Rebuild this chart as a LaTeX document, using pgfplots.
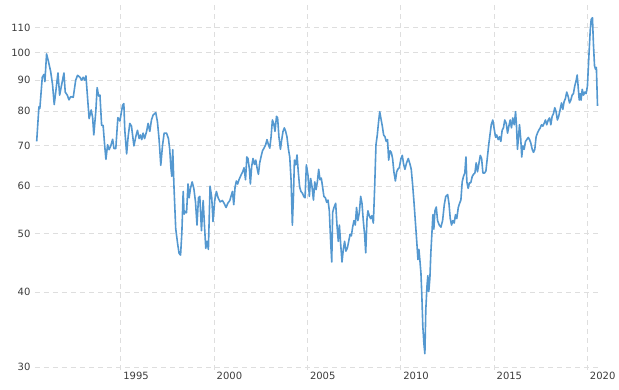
\documentclass[border=0pt]{standalone}
\usepackage{fontspec}
\setmainfont{DejaVu Sans}
\usepackage{pgfplots}
\pgfplotsset{compat=1.18}
\definecolor{line}{RGB}{84,152,208}
\definecolor{grd}{RGB}{222,222,222}
\definecolor{txt}{RGB}{60,60,60}
\begin{document}
\begin{tikzpicture}[x=1pt,y=1pt]
\useasboundingbox (0,0) rectangle (619,389);
\begin{axis}[
  at={(35pt,19pt)}, anchor=south west,
  scale only axis, width=564pt, height=365pt,
  xmin=1990.40, xmax=2020.62,
  ymode=log, ymin=29.7, ymax=120,
  axis line style={draw=none},
  major tick length=0pt,
  xtick={1995,2000,2005,2010,2015,2020},
  xticklabels={1995,2000,2005,2010,2015,2020},
  ytick={30,40,50,60,70,80,90,100,110},
  yticklabels={30,40,50,60,70,80,90,100,110},
  grid=major,
  major grid style={grd, line width=0.9pt, dash pattern=on 5pt off 4pt},
  tick label style={font=\fontsize{10}{12}\selectfont, text=txt},
  xticklabel style={anchor=north west, xshift=-1pt, yshift=1pt},
  yticklabel style={anchor=east, xshift=-1pt},
  clip=false,
]
\addplot[line, line width=1.6pt, line join=round] coordinates {
(1990.49,71.2)(1990.61,81.3)(1990.66,80.8)(1990.79,91)(1990.88,92)(1990.93,89.5)
(1991.02,99.5)(1991.11,97)(1991.24,93)(1991.34,88.5)(1991.43,82)(1991.52,86.5)
(1991.63,92.5)(1991.72,85)(1991.83,88.5)(1991.95,92.5)(1992.02,86)(1992.13,85)
(1992.22,83.5)(1992.31,84.5)(1992.45,84.3)(1992.58,90)(1992.68,91.7)(1992.81,91)
(1992.90,90)(1992.98,91)(1993.07,90)(1993.13,91.5)(1993.20,85.5)(1993.30,77.7)
(1993.41,80.3)(1993.49,78)(1993.55,73)(1993.66,80)(1993.73,87.5)(1993.81,84.7)
(1993.88,85)(1993.97,75.7)(1994.05,75.7)(1994.13,70.3)(1994.20,66.5)(1994.29,70.3)
(1994.37,69)(1994.46,70)(1994.56,71.8)(1994.63,69.3)(1994.73,69.3)(1994.84,78)
(1994.95,77)(1995.09,81.7)(1995.16,82.3)(1995.21,74.5)(1995.31,67.9)(1995.39,72.5)
(1995.48,76.3)(1995.57,75.5)(1995.70,70)(1995.80,72.5)(1995.89,74.3)(1995.98,72)
(1996.05,73)(1996.12,71.7)(1996.19,73.5)(1996.27,72)(1996.38,74)(1996.46,76.3)
(1996.55,74)(1996.64,77.3)(1996.73,78.8)(1996.87,79.5)(1996.96,76.8)(1997.05,71.7)
(1997.14,65)(1997.23,70)(1997.32,73.5)(1997.45,73.5)(1997.55,72)(1997.62,69)
(1997.68,64.5)(1997.73,62.3)(1997.78,69)(1997.85,59.5)(1997.94,51)(1998.04,48.2)
(1998.12,46.4)(1998.20,46.1)(1998.27,50.3)(1998.34,58.8)(1998.39,53.9)(1998.46,54.5)
(1998.52,54.2)(1998.60,60.5)(1998.66,57.4)(1998.73,59.5)(1998.82,61)(1998.91,59.5)
(1999.00,56.5)(1999.08,51.7)(1999.16,57.4)(1999.23,57.7)(1999.32,50.6)(1999.41,56.8)
(1999.48,51.7)(1999.55,47.3)(1999.62,48.6)(1999.69,47.1)(1999.78,60)(1999.87,57.4)
(1999.94,52.4)(2000.03,56.8)(2000.12,58.8)(2000.21,57.4)(2000.32,56.5)(2000.44,56.8)
(2000.53,56.2)(2000.64,55.3)(2000.73,56.2)(2000.84,56.8)(2000.90,57.7)(2000.98,58.8)
(2001.05,55.9)(2001.12,59.8)(2001.19,61.2)(2001.26,60.5)(2001.33,61.5)(2001.44,62.6)
(2001.53,63.4)(2001.60,64.4)(2001.68,61.5)(2001.75,67.1)(2001.81,66.7)(2001.89,64)
(2001.94,60.5)(2002.01,64.7)(2002.08,66.7)(2002.16,65.2)(2002.23,66.3)(2002.30,64.3)
(2002.37,62.8)(2002.44,65.6)(2002.51,67.1)(2002.59,68.7)(2002.67,69.4)(2002.76,70.3)
(2002.83,71.7)(2002.91,70.3)(2002.98,69.4)(2003.05,72.5)(2003.12,77.3)(2003.19,76.3)
(2003.26,74)(2003.34,78.4)(2003.40,77.9)(2003.47,72.5)(2003.55,69.1)(2003.62,71.7)
(2003.69,74)(2003.76,75)(2003.83,74)(2003.90,72.5)(2003.98,69.1)(2004.05,67.1)
(2004.12,61.5)(2004.19,51.7)(2004.25,58)(2004.30,66.3)(2004.37,65.1)(2004.44,67.6)
(2004.51,63.2)(2004.58,59.8)(2004.65,58.8)(2004.73,58.4)(2004.80,57.7)(2004.87,57.4)
(2004.94,65.1)(2005.03,62.5)(2005.10,57.7)(2005.17,61.8)(2005.24,60)(2005.32,56.9)
(2005.39,61)(2005.46,59.2)(2005.53,61)(2005.60,64)(2005.67,61.5)(2005.74,61.9)
(2005.81,59.8)(2005.88,57.7)(2005.96,57.4)(2006.03,56.4)(2006.10,56.9)(2006.17,54.6)
(2006.24,48.6)(2006.30,44.9)(2006.35,54.3)(2006.42,55.3)(2006.51,56.2)(2006.58,51.7)
(2006.65,48.6)(2006.71,51.7)(2006.78,48)(2006.85,44.9)(2006.92,47.1)(2006.99,48.6)
(2007.06,46.8)(2007.14,47.4)(2007.21,48.6)(2007.28,49.9)(2007.35,49.6)(2007.42,51.3)
(2007.49,52.6)(2007.56,51.7)(2007.63,55.3)(2007.70,52.6)(2007.78,54.3)(2007.85,57.7)
(2007.92,56.2)(2007.99,52.6)(2008.06,49.9)(2008.12,46.5)(2008.19,53)(2008.24,54.6)
(2008.31,53.6)(2008.38,53)(2008.45,53.6)(2008.53,52.1)(2008.60,59.8)(2008.67,70.3)
(2008.74,73)(2008.81,76.8)(2008.87,79.8)(2008.93,77.9)(2009.01,75.5)(2009.08,73)
(2009.15,72.5)(2009.22,71.2)(2009.29,71.7)(2009.35,66.3)(2009.42,68.7)(2009.49,68.3)
(2009.56,66.7)(2009.63,63.4)(2009.71,61.2)(2009.78,63.4)(2009.84,64)(2009.92,64.4)
(2010.01,66.7)(2010.08,67.5)(2010.15,65.3)(2010.22,64)(2010.31,65.6)(2010.40,66.7)
(2010.49,65.3)(2010.56,64)(2010.63,60.5)(2010.70,56.8)(2010.78,52.4)(2010.85,48.8)
(2010.92,45.3)(2010.97,47.1)(2011.02,45.3)(2011.08,43)(2011.13,39.3)(2011.18,35.1)
(2011.24,32.8)(2011.29,31.6)(2011.34,37.4)(2011.40,40.8)(2011.45,42.6)(2011.50,40.1)
(2011.56,42.3)(2011.61,46.5)(2011.67,50.3)(2011.72,53.8)(2011.77,50.9)(2011.83,54.6)
(2011.90,55.4)(2011.97,52.6)(2012.06,51.7)(2012.15,51.3)(2012.24,52.6)(2012.33,55.9)
(2012.41,57.7)(2012.51,58.1)(2012.58,56.2)(2012.65,53)(2012.72,51.7)(2012.79,52.6)
(2012.86,52.1)(2012.93,53.8)(2013.00,53)(2013.08,55.3)(2013.15,56.2)(2013.22,56.9)
(2013.29,61)(2013.36,62.3)(2013.43,63.1)(2013.49,67.1)(2013.54,61)(2013.61,59.5)
(2013.68,60.8)(2013.75,60.8)(2013.83,62.3)(2013.90,62.8)(2013.97,63.1)(2014.04,65.6)
(2014.11,63.4)(2014.18,65.3)(2014.26,67.5)(2014.33,66.7)(2014.40,63.1)(2014.49,63.1)
(2014.56,63.6)(2014.65,67.5)(2014.72,70.7)(2014.85,76)(2014.93,77.3)(2015.01,74.5)
(2015.08,72.3)(2015.14,73)(2015.22,71.7)(2015.29,72.5)(2015.36,71.2)(2015.43,74.3)
(2015.50,75)(2015.57,77.3)(2015.65,76.3)(2015.72,73.5)(2015.79,75.5)(2015.86,77.3)
(2015.93,75)(2016.00,77.9)(2016.08,75.9)(2016.15,79.8)(2016.20,75.5)(2016.25,69.1)
(2016.31,72.5)(2016.36,75.9)(2016.43,71.7)(2016.48,67.1)(2016.54,70)(2016.61,69.1)
(2016.68,71.2)(2016.75,71.7)(2016.83,72.3)(2016.90,71.7)(2016.97,70.7)(2017.04,69.1)
(2017.11,68.3)(2017.18,69.1)(2017.25,72.5)(2017.32,73.5)(2017.39,74.3)(2017.47,75)
(2017.54,75.9)(2017.61,75.5)(2017.68,76.3)(2017.75,77.3)(2017.82,75.9)(2017.90,77.3)
(2017.97,77.9)(2018.04,75.9)(2018.11,78.4)(2018.18,79.2)(2018.25,81)(2018.32,79.8)
(2018.39,77.3)(2018.46,78.4)(2018.54,80.5)(2018.61,82.5)(2018.68,80.5)(2018.75,82.9)
(2018.82,83.9)(2018.89,86)(2018.97,84.5)(2019.04,82.5)(2019.11,83.4)(2019.18,85)
(2019.25,85.5)(2019.32,88)(2019.40,90)(2019.45,91.8)(2019.50,88)(2019.56,83.4)
(2019.61,85.5)(2019.66,83.4)(2019.72,86.9)(2019.79,85)(2019.86,86)(2019.93,85.5)
(2020.00,88)(2020.07,97.5)(2020.15,109)(2020.20,113.5)(2020.27,114.3)(2020.32,103.6)
(2020.38,95.1)(2020.43,93.9)(2020.48,94.5)(2020.54,81.6)
};
\end{axis}
\end{tikzpicture}
\end{document}
